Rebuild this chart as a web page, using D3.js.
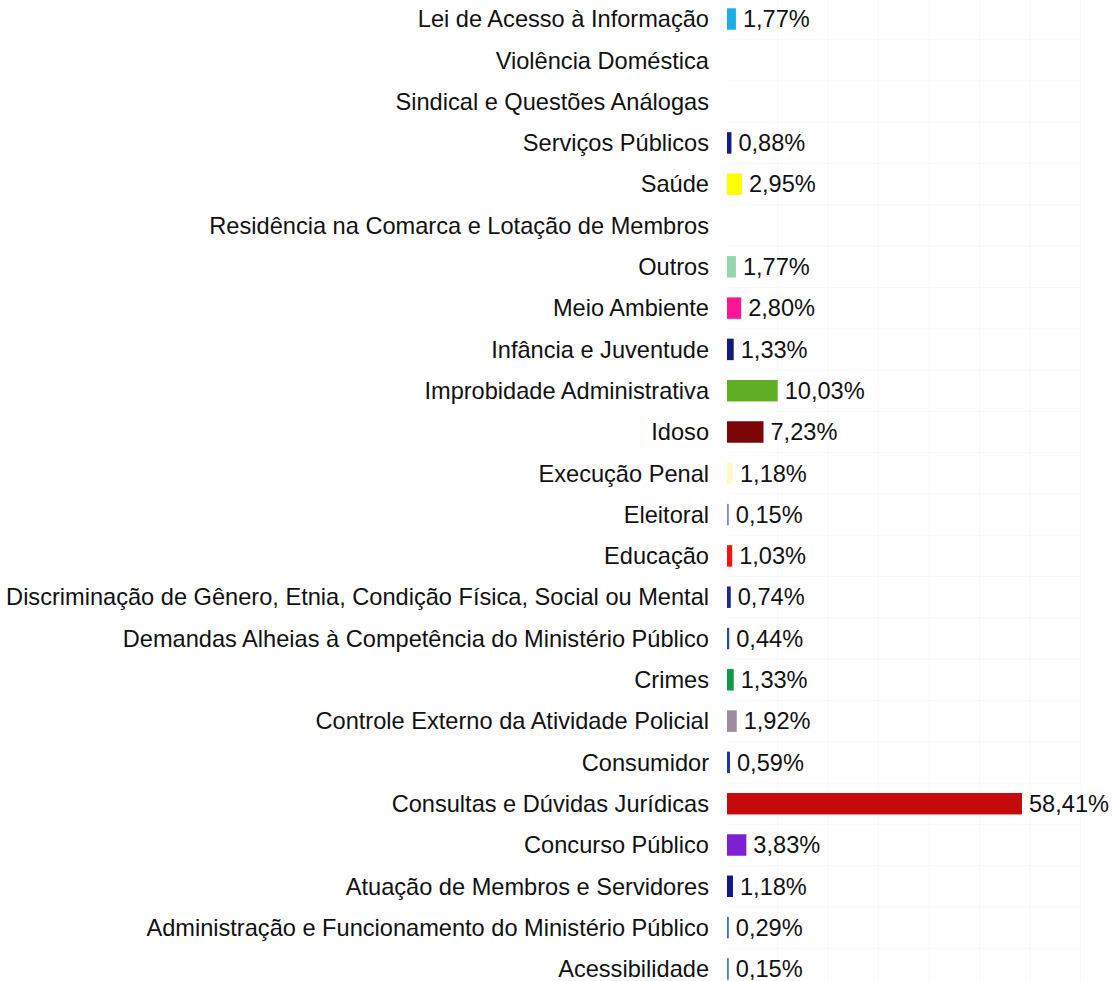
<!DOCTYPE html>
<html>
<head>
<meta charset="utf-8">
<script src="https://cdn.jsdelivr.net/npm/d3@7"></script>
<style>
  body { margin: 0; background: #fff; }
  text { font-family: "Liberation Sans", Arial, sans-serif; }
</style>
</head>
<body>
<script>
// categorias, de cima para baixo
let categorias = [
  "Lei de Acesso à Informação",
  "Violência Doméstica",
  "Sindical e Questões Análogas",
  "Serviços Públicos",
  "Saúde",
  "Residência na Comarca e Lotação de Membros",
  "Outros",
  "Meio Ambiente",
  "Infância e Juventude",
  "Improbidade Administrativa",
  "Idoso",
  "Execução Penal",
  "Eleitoral",
  "Educação",
  "Discriminação de Gênero, Etnia, Condição Física, Social ou Mental",
  "Demandas Alheias à Competência do Ministério Público",
  "Crimes",
  "Controle Externo da Atividade Policial",
  "Consumidor",
  "Consultas e Dúvidas Jurídicas",
  "Concurso Público",
  "Atuação de Membros e Servidores",
  "Administração e Funcionamento do Ministério Público",
  "Acessibilidade"
];

let valores = [1.77, null, null, 0.88, 2.95, null, 1.77, 2.80, 1.33, 10.03, 7.23, 1.18,
  0.15, 1.03, 0.74, 0.44, 1.33, 1.92, 0.59, 58.41, 3.83, 1.18, 0.29, 0.15];

let cores = ["#1eaee6", null, null, "#141a86", "#ffff00", null, "#93d6b0", "#ff1493",
  "#121a7e", "#5fae24", "#7a0608", "#fffac8", "#7f86d0", "#ff1010", "#172a9c",
  "#2346b4", "#0f9a44", "#9b8d9d", "#1d36b0", "#c40a0a", "#7d1fd2", "#0b1a84",
  "#3a70d0", "#4c7bcf"];

let gradeX = [10, 20, 30, 40, 50, 60, 70];

let width = 1114, height = 981;

let svg = d3.select("body")
    .append("svg")
    .attr("width", width)
    .attr("height", height);

let x = d3.scaleLinear()
    .domain([0, 70])
    .range([727, 1080.5]);

let passo = 41.3;
let y = d3.scaleBand()
    .domain(categorias)
    .range([19 - passo / 2, 19 - passo / 2 + 24 * passo])
    .paddingInner(0.48)
    .paddingOuter(0.24);

let dados = categorias.map(function(c, i) {
    return { cat: c, v: valores[i], cor: cores[i] };
});

// grade bem clara
svg.selectAll(".gx")
    .data(gradeX)
    .enter()
    .append("line")
    .attr("x1", d => x(d))
    .attr("x2", d => x(d))
    .attr("y1", 0)
    .attr("y2", height)
    .style("stroke", "#f8f8f8")
    .style("stroke-width", 1);

svg.selectAll(".gy")
    .data(categorias)
    .enter()
    .append("line")
    .attr("x1", x(0))
    .attr("x2", x(70))
    .attr("y1", d => y(d) + y.bandwidth() / 2 + passo / 2)
    .attr("y2", d => y(d) + y.bandwidth() / 2 + passo / 2)
    .style("stroke", "#f8f8f8")
    .style("stroke-width", 1);

// rótulos das categorias
svg.selectAll(".cat")
    .data(dados)
    .enter()
    .append("text")
    .attr("x", 709)
    .attr("y", d => y(d.cat) + y.bandwidth() / 2)
    .attr("dy", "0.35em")
    .attr("text-anchor", "end")
    .style("font-size", "23.6px")
    .style("fill", "#111")
    .text(d => d.cat);

let comValor = dados.filter(d => d.v != null);

svg.selectAll(".bar")
    .data(comValor)
    .enter()
    .append("rect")
    .attr("x", x(0))
    .attr("y", d => y(d.cat))
    .attr("width", d => Math.max(x(d.v) - x(0), 1.8))
    .attr("height", y.bandwidth())
    .style("fill", d => d.cor);

svg.selectAll(".val")
    .data(comValor)
    .enter()
    .append("text")
    .attr("x", d => Math.max(x(d.v), x(0) + 1.8) + 7)
    .attr("y", d => y(d.cat) + y.bandwidth() / 2)
    .attr("dy", "0.35em")
    .style("font-size", "23.6px")
    .style("fill", "#111")
    .text(d => d.v.toFixed(2).replace(".", ",") + "%");
</script>
</body>
</html>
